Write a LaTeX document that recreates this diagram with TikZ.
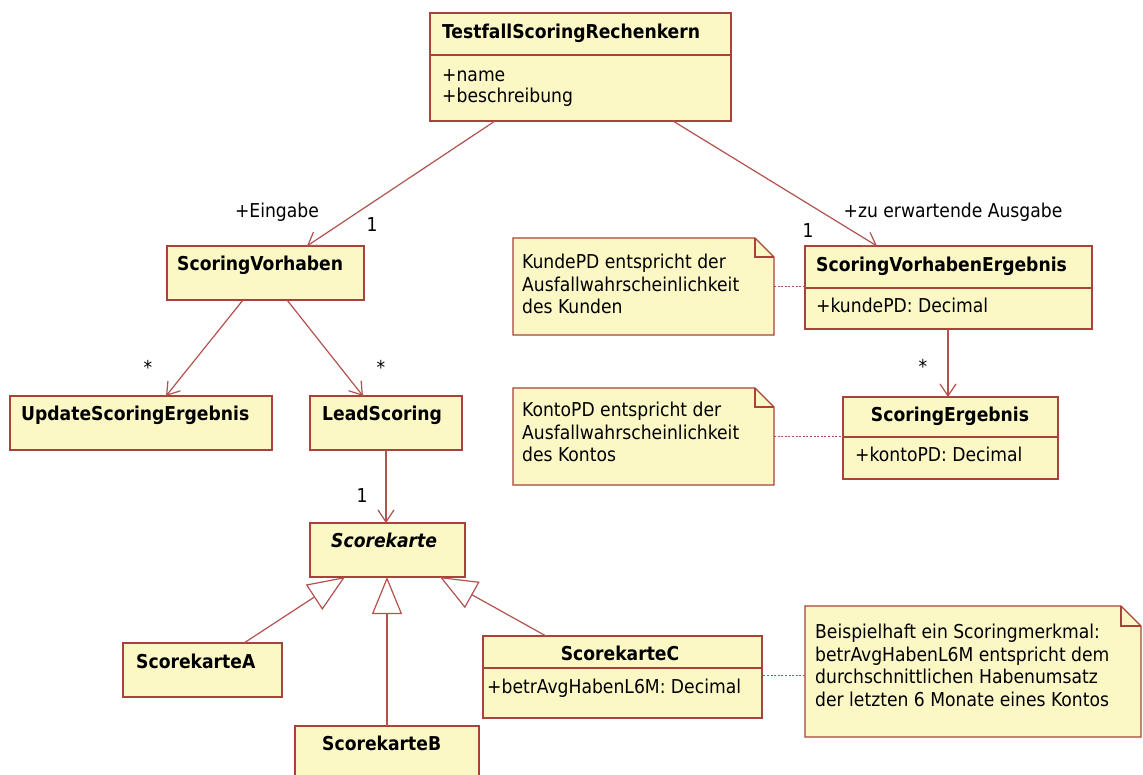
\documentclass[tikz,border=0pt]{standalone}
\usepackage{fontspec}
\setmainfont{DejaVu Sans Condensed}
\usetikzlibrary{arrows.meta}
\definecolor{ufill}{RGB}{252,248,198}
\definecolor{uborder}{RGB}{168,66,58}
\definecolor{uline}{RGB}{178,82,78}
\newcommand\fsz{\fontsize{19.1}{22.5}\selectfont}
\begin{document}
\begin{tikzpicture}[x=1pt,y=-1pt,
  box/.style={draw=uborder, fill=ufill, line width=1.4pt, anchor=north west, inner sep=0pt, outer sep=0pt},
  sepline/.style={draw=uborder, line width=1.4pt},
  notebox/.style={anchor=north west, inner sep=0pt, outer sep=0pt},
  notedraw/.style={draw=uborder, fill=ufill, line width=1.4pt, line join=miter},
  cname/.style={font=\fsz\bfseries, anchor=mid west, inner sep=0pt, yshift=-2pt},
  cnamec/.style={font=\fsz\bfseries, anchor=mid, inner sep=0pt, yshift=-2pt},
  attr/.style={font=\fsz, anchor=mid west, inner sep=0pt, yshift=-2pt},
  notetext/.style={font=\fsz, anchor=north west, align=left, inner sep=0pt, yshift=-2pt},
  lbl/.style={font=\fsz, anchor=mid, inner sep=0pt, yshift=-2pt},
  assoc/.style={draw=uline, line width=1.2pt, -{Straight Barb[length=12pt,width=16pt,line width=1.2pt]}},
  gen/.style={draw=uline, line width=1.2pt, -{Triangle[length=37pt,width=30pt,fill=white,line width=1.2pt]}},
  dots/.style={draw=uline, line width=1.8pt, dash pattern=on 2pt off 1.6pt},
]
\path[use as bounding box] (0,0) rectangle (1143,774);
\clip (0,0) rectangle (1143,774);
\fill[white] (0,0) rectangle (1143,774);

% ---------- classes ----------
\node[box, minimum width=301pt, minimum height=108pt] (tsr) at (430,13) {};
\draw[sepline] ([yshift=-42pt]tsr.north west) -- ([yshift=-42pt]tsr.north east);
\node[cname] (tsrn) at (442,34) {TestfallScoringRechenkern};
\node[attr] (tsra1) at (442,77) {+name};
\node[attr] (tsra2) at (442,98) {+beschreibung};

\node[box, minimum width=197pt, minimum height=54pt] (sv) at (167,246) {};
\node[cname] (svn) at (177,266) {ScoringVorhaben};

\node[box, minimum width=262pt, minimum height=54pt] (use) at (10,396) {};
\node[cname] (usen) at (21,416) {UpdateScoringErgebnis};

\node[box, minimum width=152pt, minimum height=54pt] (ls) at (310,396) {};
\node[cname] (lsn) at (322,416) {LeadScoring};

\node[box, minimum width=155pt, minimum height=54pt] (sk) at (310,523) {};
\node[cname, font=\fsz\bfseries\itshape] (skn) at (331,543) {Scorekarte};

\node[box, minimum width=159pt, minimum height=54pt] (ska) at (123,643) {};
\node[cname] (skan) at (136,664) {ScorekarteA};

\node[box, minimum width=184pt, minimum height=70pt] (skb) at (295,726) {};
\node[cname] (skbn) at (322,746) {ScorekarteB};

\node[box, minimum width=279pt, minimum height=82pt] (skc) at (483,636) {};
\draw[sepline] ([yshift=-32pt]skc.north west) -- ([yshift=-32pt]skc.north east);
\node[cnamec] (skcn) at (620,656) {ScorekarteC};
\node[attr] (skca) at (487,689) {+betrAvgHabenL6M: Decimal};

\node[box, minimum width=287pt, minimum height=83pt] (sve) at (805,246) {};
\draw[sepline] ([yshift=-42pt]sve.north west) -- ([yshift=-42pt]sve.north east);
\node[cname] (sven) at (816,267) {ScoringVorhabenErgebnis};
\node[attr] (svea) at (816,308) {+kundePD: Decimal};

\node[box, minimum width=215pt, minimum height=82pt] (se) at (843,397) {};
\draw[sepline] ([yshift=-40pt]se.north west) -- ([yshift=-40pt]se.north east);
\node[cnamec] (sen) at (950,417) {ScoringErgebnis};
\node[attr] (sea) at (855,457) {+kontoPD: Decimal};

% ---------- notes ----------
\node[notebox, minimum width=261pt, minimum height=97pt] (n1) at (513,238) {};
\draw[notedraw] (n1.north west) -- ([xshift=-19pt]n1.north east) -- ([yshift=-19pt]n1.north east)
  -- (n1.south east) -- (n1.south west) -- cycle;
\draw[sepline] ([xshift=-19pt]n1.north east) |- ([yshift=-19pt]n1.north east);
\node[notetext] (n1t) at (522,252) {KundePD entspricht der\\Ausfallwahrscheinlichkeit\\des Kunden};

\node[notebox, minimum width=261pt, minimum height=97pt] (n2) at (513,388) {};
\draw[notedraw] (n2.north west) -- ([xshift=-19pt]n2.north east) -- ([yshift=-19pt]n2.north east)
  -- (n2.south east) -- (n2.south west) -- cycle;
\draw[sepline] ([xshift=-19pt]n2.north east) |- ([yshift=-19pt]n2.north east);
\node[notetext] (n2t) at (522,400) {KontoPD entspricht der\\Ausfallwahrscheinlichkeit\\des Kontos};

\node[notebox, minimum width=336pt, minimum height=131pt] (n3) at (805,606) {};
\draw[notedraw] (n3.north west) -- ([xshift=-20pt]n3.north east) -- ([yshift=-20pt]n3.north east)
  -- (n3.south east) -- (n3.south west) -- cycle;
\draw[sepline] ([xshift=-20pt]n3.north east) |- ([yshift=-20pt]n3.north east);
\node[notetext] (n3t) at (815,622) {Beispielhaft ein Scoringmerkmal:\\betrAvgHabenL6M entspricht dem\\durchschnittlichen Habenumsatz\\der letzten 6 Monate eines Kontos};

% ---------- note anchors ----------
\draw[dots] (n1.east) -- (n1.east -| sve.west);
\draw[dots] (n2.east) -- (n2.east -| se.west);
\draw[dots] ([yshift=-4pt]n3.west) -- ([yshift=-4pt]n3.west -| skc.east);

% ---------- associations ----------
\draw[assoc] ([xshift=65pt]tsr.south west) -- ([xshift=140pt]sv.north west);
\draw[assoc] ([xshift=243pt]tsr.south west) -- ([xshift=72pt]sve.north west);
\draw[assoc] ([xshift=76pt]sv.south west) -- ([xshift=156pt]use.north west);
\draw[assoc] ([xshift=120pt]sv.south west) -- ([xshift=53pt]ls.north west);
\draw[assoc] ([xshift=76pt]ls.south west) -- ([xshift=76pt]sk.north west);
\draw[assoc] ([xshift=143pt]sve.south west) -- ([xshift=105pt]se.north west);

% ---------- generalizations ----------
\draw[gen] ([xshift=121pt]ska.north west) -- ([xshift=35pt]sk.south west);
\draw[gen] ([xshift=92pt]skb.north west) -- ([xshift=77pt]sk.south west);
\draw[gen] ([xshift=63pt]skc.north west) -- ([xshift=130pt]sk.south west);

% ---------- labels ----------
\node[lbl] (leing) at (277,213) {+Eingabe};
\node[lbl] (laus) at (953,213) {+zu erwartende Ausgabe};
\node[lbl] (m1) at (372,227) {1};
\node[lbl] (m2) at (808,233) {1};
\node[lbl] (m3) at (362,498) {1};
\node[lbl] (s1) at (148,370) {*};
\node[lbl] (s2) at (381,370) {*};
\node[lbl] (s3) at (923,369) {*};
\end{tikzpicture}
\end{document}
